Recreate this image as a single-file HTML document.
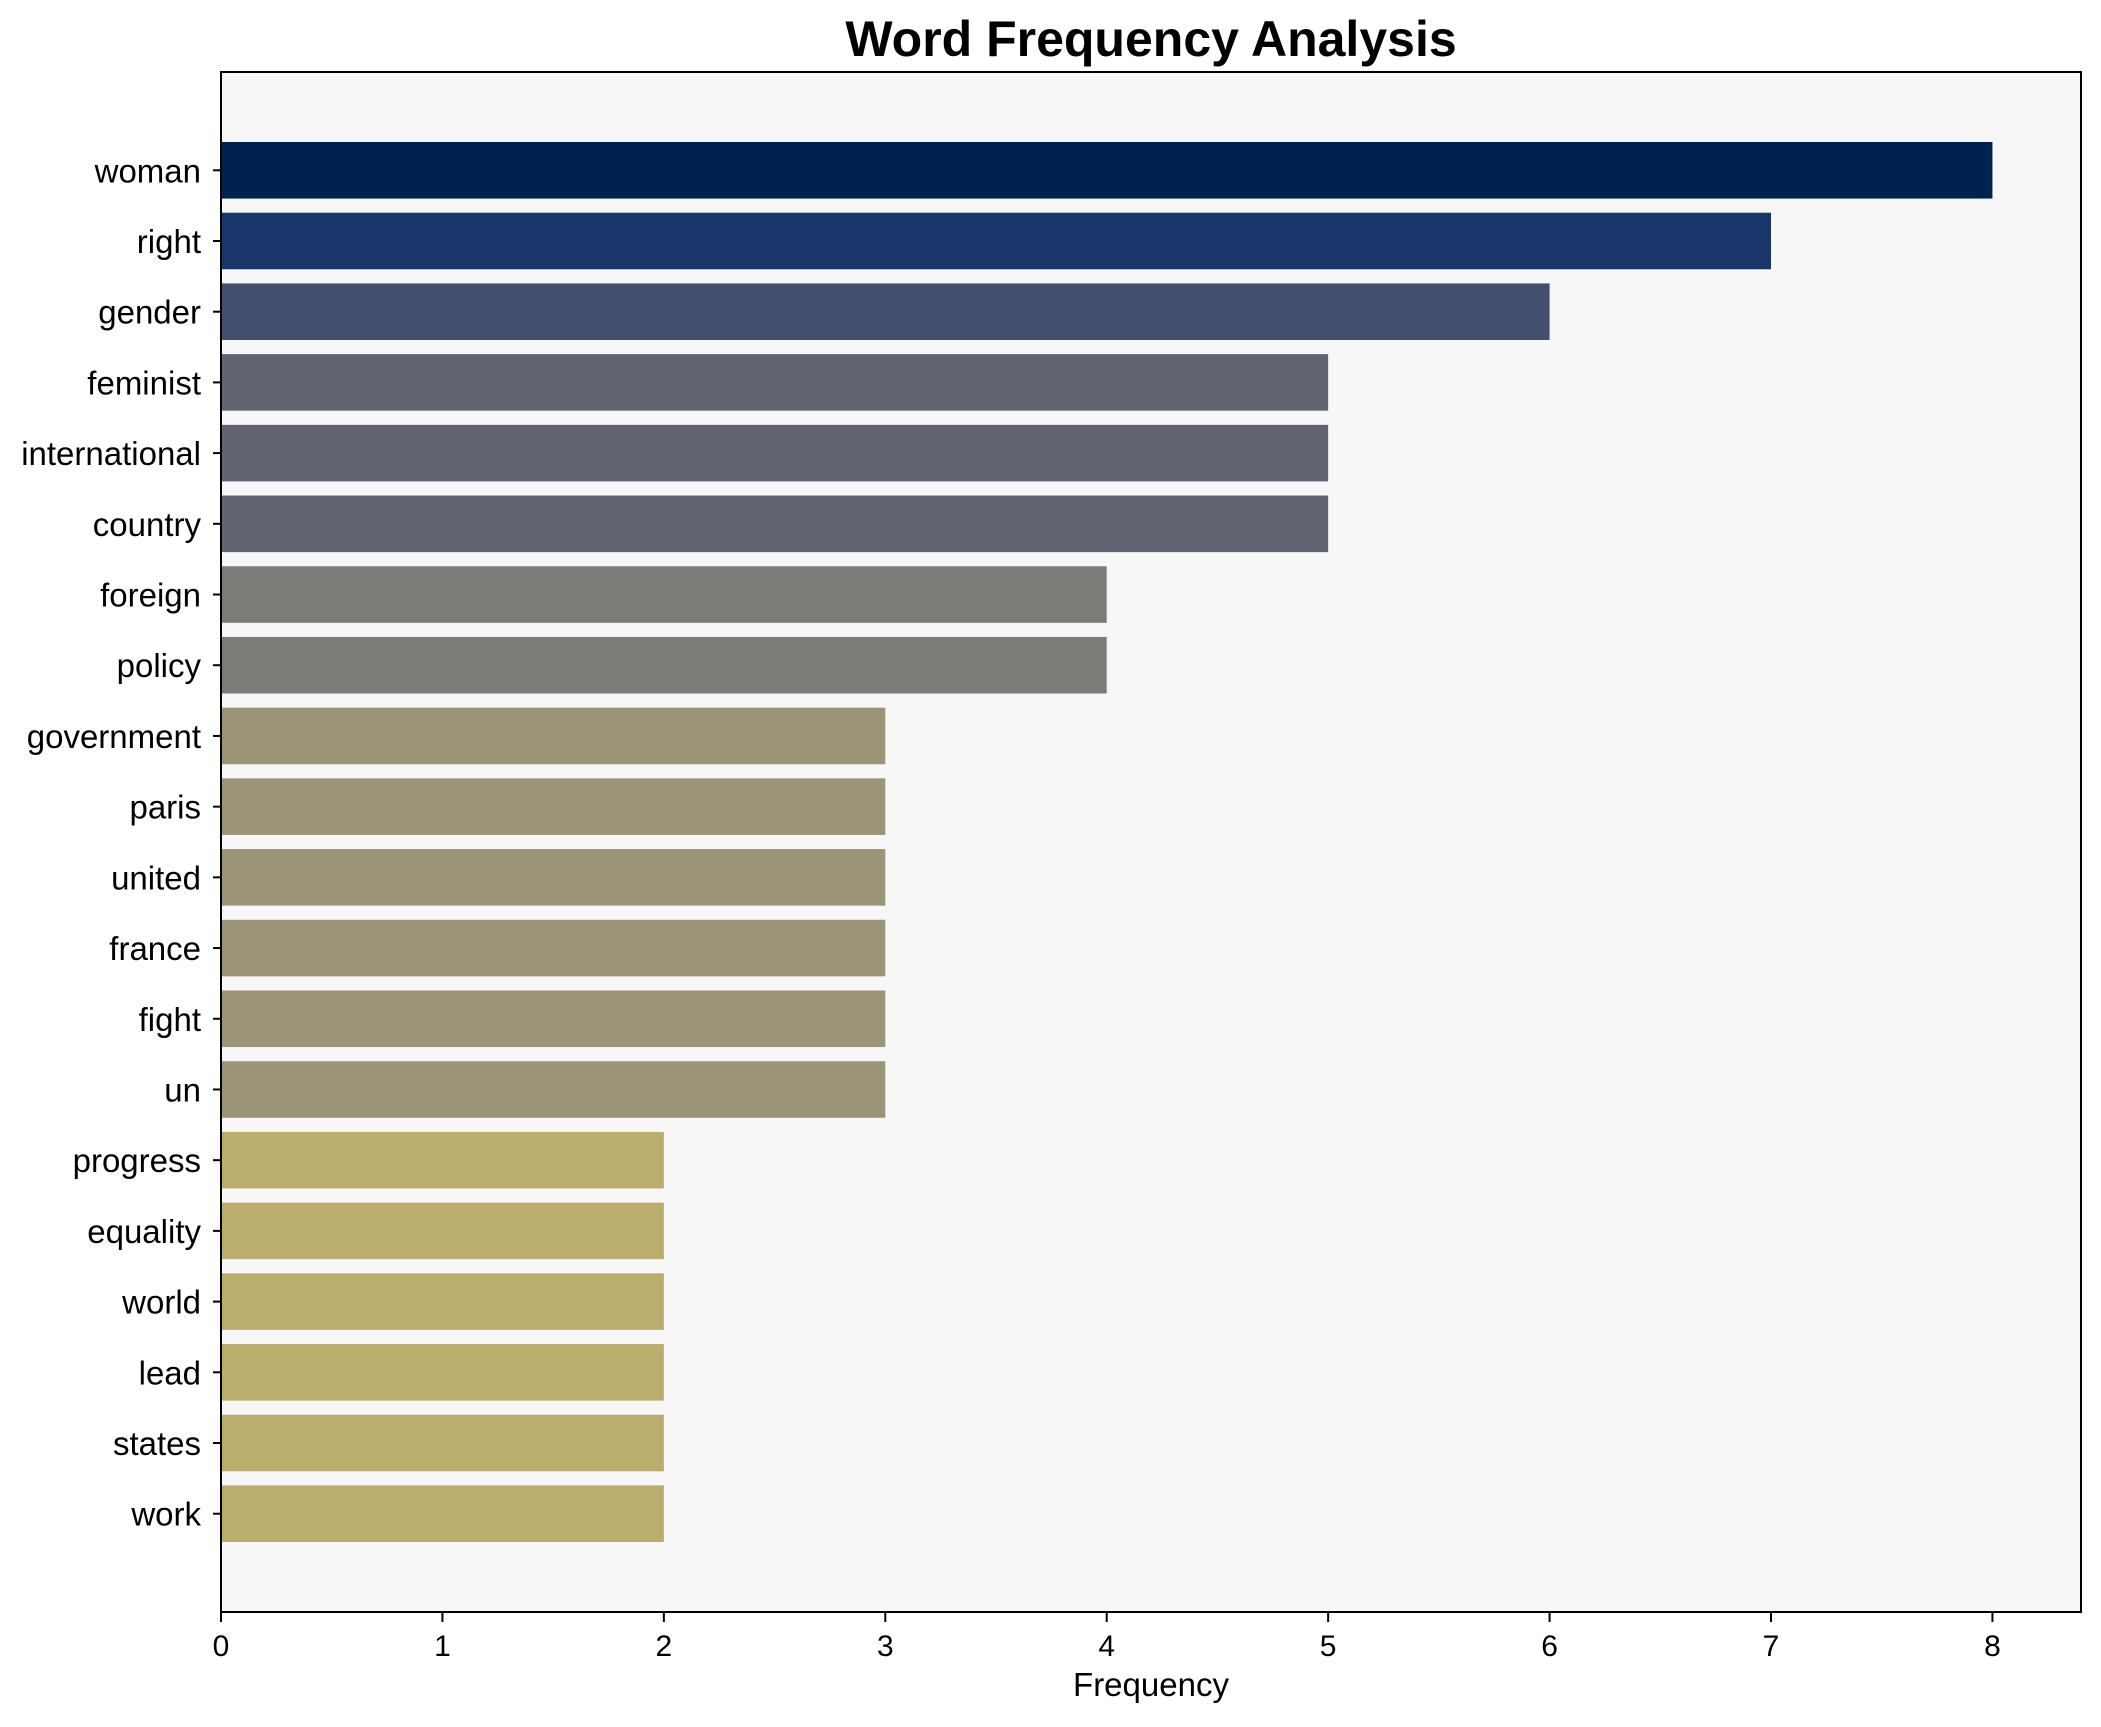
<!DOCTYPE html>
<html><head><meta charset="utf-8"><style>
body{margin:0;background:#fff;}
svg text{font-family:"Liberation Sans",Arial,sans-serif;fill:#000;}
</style></head><body>
<svg id="chart" width="2101" height="1722" xmlns="http://www.w3.org/2000/svg">
<rect x="0" y="0" width="2101" height="1722" fill="#ffffff"/>
<text x="1151" y="56" font-size="50" font-weight="bold" text-anchor="middle">Word Frequency Analysis</text>
<rect x="221" y="72" width="1860" height="1540" fill="#f7f7f7"/>
<g id="bars"></g>
<g id="yticks"></g>
<g id="xticks"></g>
<rect x="221" y="72" width="1860" height="1540" fill="none" stroke="#000" stroke-width="2"/>
<text x="1151" y="1696" font-size="33" text-anchor="middle">Frequency</text>
</svg>
<script>
const words = ["woman","right","gender","feminist","international","country","foreign","policy","government","paris","united","france","fight","un","progress","equality","world","lead","states","work"];
const counts = [8,7,6,5,5,5,4,4,3,3,3,3,3,3,2,2,2,2,2,2];
const xTicks = [0,1,2,3,4,5,6,7,8];
const colorByCount = {8:"#002251",7:"#19366b",6:"#434f6d",5:"#5f6470",4:"#7c7b78",3:"#9b9477",2:"#bbad6d",1:"#d9c45e"};
const L=221,R=2081,T=72,B=1612,XMAX=8.4,YMIN=-1.39,YMAX=words.length-1+1.39;
const NS="http://www.w3.org/2000/svg";
function xs(v){return L+(v/XMAX)*(R-L);}
function ys(i){return T+((i-YMIN)/(YMAX-YMIN))*(B-T);}
const unit=(B-T)/(YMAX-YMIN);
const gb=document.getElementById('bars'),gy=document.getElementById('yticks'),gx=document.getElementById('xticks');
words.forEach((w,i)=>{
  const cy=ys(i),h=0.8*unit;
  const r=document.createElementNS(NS,'rect');
  r.setAttribute('x',xs(0));r.setAttribute('y',cy-h/2);
  r.setAttribute('width',xs(counts[i])-xs(0));r.setAttribute('height',h);
  r.setAttribute('fill',colorByCount[counts[i]]||"#888");
  
  
  gb.appendChild(r);
  const tk=document.createElementNS(NS,'line');
  tk.setAttribute('x1',L-8);tk.setAttribute('x2',L);tk.setAttribute('y1',cy);tk.setAttribute('y2',cy);
  tk.setAttribute('stroke','#000');tk.setAttribute('stroke-width','2');
  
  
  gy.appendChild(tk);
  const t=document.createElementNS(NS,'text');
  t.setAttribute('x',L-20);t.setAttribute('y',cy+12);t.setAttribute('font-size','33');t.setAttribute('text-anchor','end');
  t.textContent=w;
  
  
  gy.appendChild(t);
});
xTicks.forEach(v=>{
  const x=xs(v);
  const tk=document.createElementNS(NS,'line');
  tk.setAttribute('x1',x);tk.setAttribute('x2',x);tk.setAttribute('y1',B);tk.setAttribute('y2',B+10);
  tk.setAttribute('stroke','#000');tk.setAttribute('stroke-width','2');
  
  
  gx.appendChild(tk);
  const t=document.createElementNS(NS,'text');
  t.setAttribute('x',x);t.setAttribute('y',B+44);t.setAttribute('font-size','30');t.setAttribute('text-anchor','middle');
  t.textContent=v;
  
  
  gx.appendChild(t);
});
</script>
</body></html>
